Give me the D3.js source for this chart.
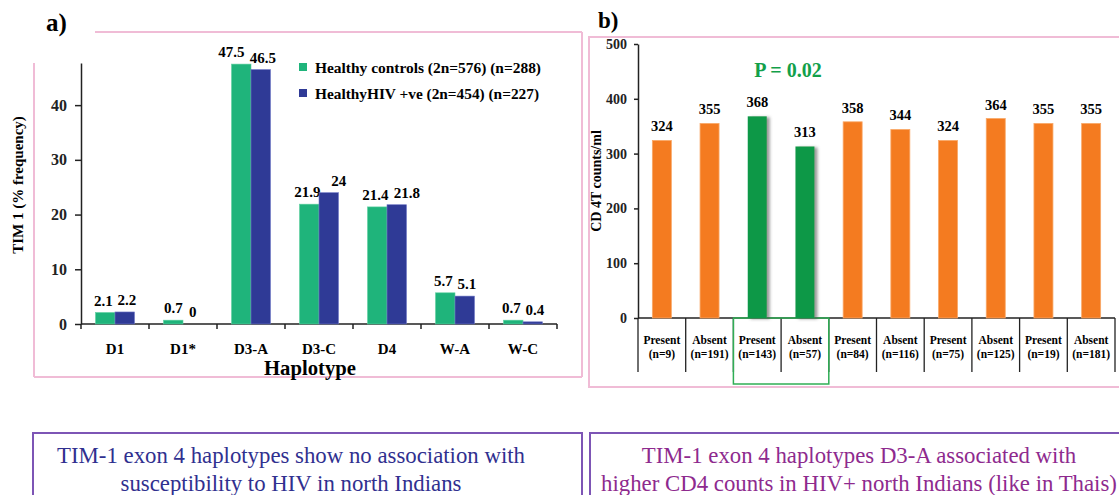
<!DOCTYPE html>
<html>
<head>
<meta charset="utf-8">
<script src="https://d3js.org/d3.v7.min.js"></script>
<style>
  body { margin: 0; background: #fff; }
  svg { display: block; }
  text { font-family: "Liberation Serif", "Times New Roman", serif; }
  .bold { font-weight: bold; }
  .axis path, .axis line { stroke: #222; stroke-width: 1.5; }
</style>
</head>
<body>
<div id="chart"></div>
<script>
// panel a: haplotype frequencies
const haplotypes = ['D1', 'D1*', 'D3-A', 'D3-C', 'D4', 'W-A', 'W-C'];
const healthyControls = [2.1, 0.7, 47.5, 21.9, 21.4, 5.7, 0.7];
const hivPositive = [2.2, 0, 46.5, 24, 21.8, 5.1, 0.4];
const seriesNames = ['Healthy controls (2n=576) (n=288)', 'HealthyHIV +ve (2n=454) (n=227)'];
const freqTicks = [0, 10, 20, 30, 40];

// panel b: CD4 counts by haplotype presence
const cd4Status = ['Present', 'Absent', 'Present', 'Absent', 'Present', 'Absent', 'Present', 'Absent', 'Present', 'Absent'];
const cd4N = [9, 191, 143, 57, 84, 116, 75, 125, 19, 181];
const cd4Counts = [324, 355, 368, 313, 358, 344, 324, 364, 355, 355];
const cd4Highlight = [2, 3];
const cd4Ticks = [0, 100, 200, 300, 400, 500];

const captions = [
  ['TIM-1 exon 4 haplotypes show no association with', 'susceptibility to HIV in north Indians'],
  ['TIM-1 exon 4 haplotypes D3-A associated with', 'higher CD4 counts in HIV+ north Indians (like in Thais)']
];

const W = 1119, H = 495;
const pink = '#f0bcd6';
const svg = d3.select('#chart').append('svg').attr('width', W).attr('height', H);

const defs = svg.append('defs');
defs.append('filter').attr('id', 'shadow').attr('x', '-30%').attr('y', '-10%').attr('width', '170%').attr('height', '120%')
  .append('feDropShadow').attr('dx', 3).attr('dy', 1).attr('stdDeviation', 1.6).attr('flood-color', '#555').attr('flood-opacity', 0.6);

// ---------- panel a ----------
const frame = svg.append('g').attr('fill', 'none').attr('stroke', pink).attr('stroke-width', 2);
frame.append('line').attr('x1', 95).attr('x2', 582).attr('y1', 32).attr('y2', 32);
frame.append('line').attr('x1', 34).attr('x2', 34).attr('y1', 63).attr('y2', 377);
frame.append('line').attr('x1', 34).attr('x2', 582).attr('y1', 377).attr('y2', 377);
frame.append('line').attr('x1', 582).attr('x2', 582).attr('y1', 32).attr('y2', 377);

svg.append('text').attr('class', 'bold').attr('font-size', 25).attr('x', 46).attr('y', 31).text('a)');

const xa = d3.scaleBand().domain(haplotypes).range([81, 557]);
const ya = d3.scaleLinear().domain([0, 47.7]).range([324, 63]);
const barW = 19.5;
const colA = ['#1fb47b', '#2f3a96'];

const ga = svg.append('g');
ga.append('g').attr('class', 'axis').attr('transform', 'translate(81,0)')
  .call(d3.axisLeft(ya).tickValues(freqTicks).tickSize(6).tickPadding(8).tickSizeOuter(0))
  .call(g => g.selectAll('text').attr('class', 'bold').attr('font-size', 16).attr('fill', '#222')
    .style('font-family', '"Liberation Serif", serif'));

const xAxisA = ga.append('g').attr('transform', 'translate(0,324)');
xAxisA.append('line').attr('x1', 81).attr('x2', 557).attr('stroke', '#222').attr('stroke-width', 1.5);
xAxisA.selectAll('.tk').data(d3.range(haplotypes.length + 1)).join('line')
  .attr('x1', i => 81 + i * xa.bandwidth()).attr('x2', i => 81 + i * xa.bandwidth())
  .attr('y1', 0).attr('y2', 5).attr('stroke', '#222').attr('stroke-width', 1.5);
xAxisA.selectAll('.lbl').data(haplotypes).join('text')
  .attr('class', 'bold').attr('font-size', 15).attr('text-anchor', 'middle')
  .attr('x', d => xa(d) + xa.bandwidth() / 2).attr('y', 30).text(d => d);

const valFont = 15;
const labelW = v => String(v).length * 0.5 * valFont - (String(v).includes('.') ? 0.25 * valFont : 0);
[healthyControls, hivPositive].forEach((vals, s) => {
  const left = i => xa(haplotypes[i]) + xa.bandwidth() / 2 + (s === 0 ? -barW : 0);
  const dir = s === 0 ? -1 : 1;
  ga.selectAll('.bar' + s).data(vals).join('rect')
    .attr('x', (v, i) => left(i)).attr('width', barW)
    .attr('y', v => ya(v)).attr('height', v => ya(0) - ya(v))
    .attr('fill', colA[s]).attr('stroke', s === 1 ? '#6f78c6' : '#5fd0a0').attr('stroke-width', 0.6);
  ga.selectAll('.val' + s).data(vals).join('text')
    .attr('class', 'bold').attr('font-size', valFont).attr('text-anchor', 'middle')
    .attr('x', (v, i) => {
      const other = s === 0 ? hivPositive[i] : healthyControls[i];
      const need = (labelW(v) + labelW(other)) / 2 + 3 - barW;
      // taller bar's label moves outward when the pair of labels would collide
      let dx = 0;
      if (need > 3 && v > other) dx = 10;
      else if (need > 0) dx = 2;
      return left(i) + barW / 2 + dir * dx;
    })
    .attr('y', v => ya(v) - 7)
    .text(v => v);
});

// legend
seriesNames.forEach((name, i) => {
  const y = 67 + i * 26;
  ga.append('rect').attr('x', 299).attr('y', y - 4).attr('width', 8).attr('height', 8).attr('fill', colA[i]);
  ga.append('text').attr('class', 'bold').attr('font-size', 14.5).attr('x', 315).attr('y', y + 6)
    .attr('textLength', i === 0 ? 226 : 224).attr('lengthAdjust', 'spacingAndGlyphs').text(name);
});

svg.append('text').attr('class', 'bold').attr('font-size', 20).attr('text-anchor', 'middle')
  .attr('x', 310).attr('y', 375).attr('textLength', 92).attr('lengthAdjust', 'spacingAndGlyphs').text('Haplotype');
svg.append('text').attr('class', 'bold').attr('font-size', 15).attr('text-anchor', 'middle')
  .attr('transform', 'translate(23,185) rotate(-90)').text('TIM 1 (% frequency)');

// ---------- panel b ----------
svg.append('rect').attr('x', 589).attr('y', 37).attr('width', 560).attr('height', 350)
  .attr('fill', 'none').attr('stroke', pink).attr('stroke-width', 2);
svg.append('text').attr('class', 'bold').attr('font-size', 23).attr('x', 598).attr('y', 28).text('b)');

const xb = d3.scaleBand().domain(d3.range(cd4Counts.length)).range([638, 1115]);
const yb = d3.scaleLinear().domain([0, 500]).range([318, 44]);
const gb = svg.append('g');

gb.append('g').attr('class', 'axis').attr('transform', 'translate(638,0)')
  .call(d3.axisLeft(yb).tickValues(cd4Ticks).tickSize(4).tickPadding(7).tickSizeOuter(0))
  .call(g => g.selectAll('text').attr('class', 'bold').attr('font-size', 14).attr('fill', '#222')
    .style('font-family', '"Liberation Serif", serif'));

gb.append('line').attr('x1', 638).attr('x2', 1115).attr('y1', 318).attr('y2', 318).attr('stroke', '#222').attr('stroke-width', 1.5);
gb.selectAll('.sep').data(d3.range(cd4Counts.length + 1)).join('line')
  .attr('x1', i => 638 + i * xb.bandwidth()).attr('x2', i => 638 + i * xb.bandwidth())
  .attr('y1', 318).attr('y2', 372).attr('stroke', '#222').attr('stroke-width', 1.3);

gb.append('rect')
  .attr('x', xb(cd4Highlight[0])).attr('y', 318)
  .attr('width', xb.bandwidth() * cd4Highlight.length).attr('height', 66)
  .attr('fill', 'none').attr('stroke', '#2fae55').attr('stroke-width', 1.5);

const barWb = 19;
const isHi = i => cd4Highlight.includes(i);
gb.selectAll('.cbar').data(cd4Counts).join('rect')
  .attr('x', (v, i) => xb(i) + xb.bandwidth() / 2 - barWb / 2).attr('width', barWb)
  .attr('y', v => yb(v)).attr('height', v => yb(0) - yb(v))
  .attr('fill', (v, i) => isHi(i) ? '#109847' : '#f47b20')
  .attr('stroke', (v, i) => isHi(i) ? 'none' : '#f9a868').attr('stroke-width', 0.8)
  .attr('filter', (v, i) => isHi(i) ? 'url(#shadow)' : null);
gb.selectAll('.cval').data(cd4Counts).join('text')
  .attr('class', 'bold').attr('font-size', 14.5).attr('text-anchor', 'middle')
  .attr('x', (v, i) => xb(i) + xb.bandwidth() / 2).attr('y', v => yb(v) - 9).text(v => v);

gb.selectAll('.cst').data(cd4Status).join('text')
  .attr('class', 'bold').attr('font-size', 11.5).attr('text-anchor', 'middle')
  .attr('x', (d, i) => xb(i) + xb.bandwidth() / 2).attr('y', 344).text(d => d);
gb.selectAll('.cn').data(cd4N).join('text')
  .attr('class', 'bold').attr('font-size', 11.5).attr('text-anchor', 'middle')
  .attr('x', (d, i) => xb(i) + xb.bandwidth() / 2).attr('y', 358).text(d => `(n=${d})`);

gb.append('text').attr('class', 'bold').attr('font-size', 20).attr('fill', '#12a04a').attr('text-anchor', 'middle')
  .attr('x', 788).attr('y', 77).text('P = 0.02');
gb.append('text').attr('class', 'bold').attr('font-size', 14).attr('text-anchor', 'middle')
  .attr('transform', 'translate(601,181) rotate(-90)').text('CD 4T counts/ml');

// ---------- captions ----------
const capBoxes = [{ x: 33, w: 549, cx: 291, color: '#30308f' }, { x: 590, w: 560, cx: 859, color: '#8e2a8e' }];
capBoxes.forEach((b, i) => {
  svg.append('rect').attr('x', b.x).attr('y', 433).attr('width', b.w).attr('height', 80)
    .attr('fill', 'none').attr('stroke', '#7d55b5').attr('stroke-width', 2);
  captions[i].forEach((line, j) => {
    svg.append('text').attr('font-size', 22.8).attr('fill', b.color).attr('text-anchor', 'middle')
      .attr('x', b.cx).attr('y', 463 + j * 28).text(line);
  });
});
</script>
</body>
</html>
